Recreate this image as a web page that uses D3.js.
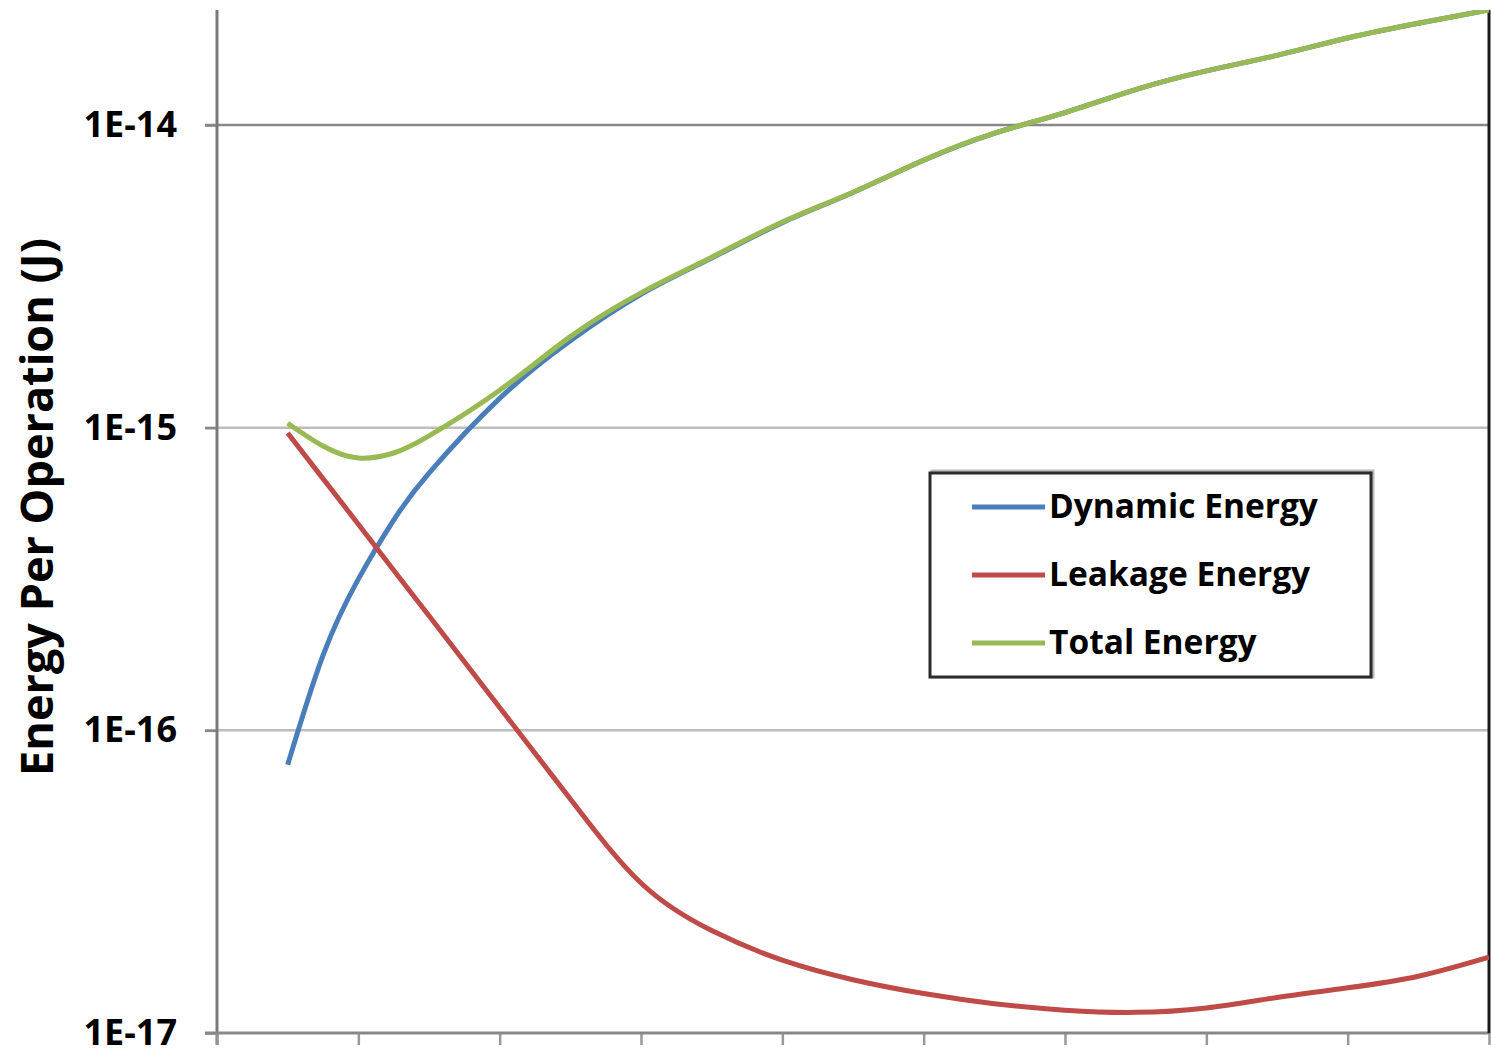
<!DOCTYPE html>
<html>
<head>
<meta charset="utf-8">
<script src="https://cdn.jsdelivr.net/npm/d3@7"></script>
<style>
  body { margin: 0; background: #fff; }
  svg { display: block; }
  text { font-family: "Open Sans", Lato, sans-serif; font-weight: bold; fill: #000; }
</style>
</head>
<body>
<svg id="chart" width="1491" height="1053"></svg>
<script>
// positions along the (unlabelled) x axis, in tick units
const xVals = [0.5, 0.75, 1, 1.25, 1.5, 2, 2.5, 3, 3.5, 4, 4.5, 5, 5.5, 6, 6.5, 7, 7.5, 8, 8.5, 9];

const dynamicEnergy = [7.7e-17, 1.77e-16, 3.16e-16, 4.95e-16, 7.08e-16, 1.25e-15, 1.94e-15, 2.76e-15,
  3.64e-15, 4.76e-15, 5.99e-15, 7.65e-15, 9.39e-15, 1.10e-14, 1.31e-14, 1.51e-14, 1.70e-14, 1.94e-14, 2.17e-14, 2.40e-14];
const leakageEnergy = [9.6e-16, 6.79e-16, 4.8e-16, 3.38e-16, 2.39e-16, 1.19e-16, 5.93e-17, 3.13e-17,
  2.18e-17, 1.74e-17, 1.50e-17, 1.35e-17, 1.25e-17, 1.19e-17, 1.17e-17, 1.21e-17, 1.31e-17, 1.41e-17, 1.54e-17, 1.78e-17];
const totalEnergy = [1.035e-15, 8.7e-16, 7.94e-16, 8.25e-16, 9.4e-16, 1.33e-15, 2.0e-15, 2.79e-15,
  3.66e-15, 4.78e-15, 6.0e-15, 7.66e-15, 9.4e-15, 1.10e-14, 1.31e-14, 1.51e-14, 1.70e-14, 1.94e-14, 2.17e-14, 2.40e-14];

const seriesNames = ["Dynamic Energy", "Leakage Energy", "Total Energy"];
const seriesColors = ["#4a7ebb", "#be4b48", "#98b954"];
const xTicks = [0, 1, 2, 3, 4, 5, 6, 7, 8, 9];
const yTicks = [1e-17, 1e-16, 1e-15, 1e-14];
const yMin = 1e-17, yMax = 2.4e-14;
const yLabel = "Energy Per Operation (J)";

const svg = d3.select("#chart");
const plotLeft = 217, plotRight = 1489, plotTop = 10, plotBottom = 1033;

const x = d3.scaleLinear().domain([0, 9]).range([plotLeft, plotRight]);
const y = d3.scaleLog().domain([yMin, yMax]).range([plotBottom, plotTop]);

svg.append("defs").append("clipPath").attr("id", "plot")
  .append("rect").attr("x", plotLeft).attr("y", plotTop)
  .attr("width", plotRight - plotLeft).attr("height", plotBottom - plotTop);

/* gridlines */
svg.append("g")
  .selectAll("line")
  .data(yTicks.filter(d => d > yMin))
  .enter().append("line")
    .attr("x1", plotLeft - 12).attr("x2", plotRight)
    .attr("y1", d => y(d)).attr("y2", d => y(d))
    .attr("stroke", d => d === 1e-14 ? "#888" : "#bdbdbd")
    .attr("stroke-width", 2.5);

/* y axis */
const yAxis = d3.axisLeft(y)
  .tickValues(yTicks)
  .tickSize(12)
  .tickPadding(28)
  .tickFormat(d => "1E" + Math.round(Math.log10(d)));

const yAxisG = svg.append("g")
  .attr("transform", `translate(${plotLeft},0)`)
  .call(yAxis);
yAxisG.select(".domain").remove();
yAxisG.selectAll(".tick line").attr("stroke", "#888").attr("stroke-width", 2.5);
yAxisG.selectAll(".tick text")
  .style("font-size", "36px")
  .attr("dy", "0.32em")
  .attr("fill", "#000");

svg.append("line")
  .attr("x1", plotLeft).attr("x2", plotLeft).attr("y1", plotTop).attr("y2", plotBottom + 12)
  .attr("stroke", "#7a7a7a").attr("stroke-width", 3);

/* x axis (no labels) */
const xAxis = d3.axisBottom(x)
  .tickValues(xTicks)
  .tickSize(12)
  .tickFormat("");

const xAxisG = svg.append("g")
  .attr("transform", `translate(0,${plotBottom})`)
  .call(xAxis);
xAxisG.select(".domain").remove();
xAxisG.selectAll(".tick line").attr("stroke", "#999").attr("stroke-width", 2.5);

svg.append("line")
  .attr("x1", plotLeft - 12).attr("x2", plotRight + 1).attr("y1", plotBottom).attr("y2", plotBottom)
  .attr("stroke", "#888").attr("stroke-width", 3);

/* right border */
svg.append("line")
  .attr("x1", plotRight).attr("x2", plotRight).attr("y1", plotTop).attr("y2", plotBottom)
  .attr("stroke", "#1a1a1a").attr("stroke-width", 3);

/* series */
const seriesData = [dynamicEnergy, leakageEnergy, totalEnergy];
const line = d3.line()
  .x((d, i) => x(xVals[i]))
  .y(d => y(d))
  .curve(d3.curveNatural);

svg.append("g")
  .attr("clip-path", "url(#plot)")
  .selectAll("path")
  .data(seriesData)
  .enter().append("path")
    .attr("d", d => line(d))
    .attr("fill", "none")
    .attr("stroke", (d, i) => seriesColors[i])
    .attr("stroke-width", 5)
    .attr("stroke-linejoin", "round");

/* y axis title */
svg.append("text")
  .attr("transform", `translate(53,507) rotate(-90)`)
  .style("text-anchor", "middle")
  .style("font-size", "45px")
  .text(yLabel);

/* legend */
const legend = svg.append("g").attr("transform", "translate(930,473)");
legend.append("rect")
  .attr("x", 2).attr("y", -2).attr("width", 441).attr("height", 206)
  .attr("fill", "none").attr("stroke", "#bbb").attr("stroke-width", 3);
legend.append("rect")
  .attr("width", 441).attr("height", 204)
  .attr("fill", "#fff").attr("stroke", "#2b2b2b").attr("stroke-width", 3);

const items = legend.selectAll("g.item")
  .data(seriesNames)
  .enter().append("g")
    .attr("class", "item")
    .attr("transform", (d, i) => `translate(0,${34 + i * 68})`);
items.append("line")
  .attr("x1", 42).attr("x2", 115)
  .attr("stroke", (d, i) => seriesColors[i])
  .attr("stroke-width", 5);
items.append("text")
  .attr("x", 119)
  .attr("y", 11)
  .style("font-size", "33.5px")
  .text(d => d);
</script>
</body>
</html>
